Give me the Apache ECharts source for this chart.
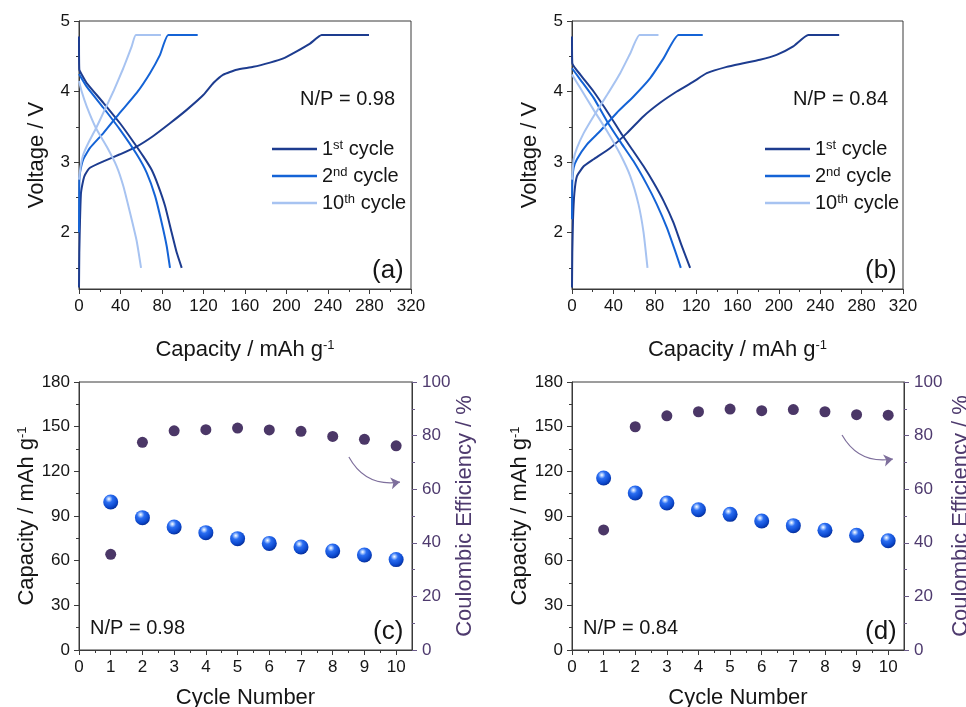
<!DOCTYPE html>
<html><head><meta charset="utf-8">
<script src="https://cdn.jsdelivr.net/npm/echarts@6/dist/echarts.min.js"></script>
<style>html,body{margin:0;padding:0;background:#fff}#c{width:966px;height:707px}</style>
</head><body><div id="c"></div>
<script>
// ---------- data ----------
const a1Charge = [[0,1.22],[0.3,1.72],[1.0,2.19],[1.9,2.56],[4.2,2.75],[5.8,2.82],[10.6,2.92],[23.5,3.01],[39.5,3.11],[55.6,3.22],[71.6,3.37],[87.7,3.55],[103.8,3.74],[119.8,3.95],[129.5,4.12],[139.1,4.24],[152.0,4.31],[168.0,4.35],[184.1,4.41],[197.0,4.47],[209.8,4.57],[222.7,4.68],[233.9,4.80],[279.5,4.80]];
const a1Discharge = [[0,4.78],[0.3,4.31],[2.6,4.24],[7.4,4.12],[23.5,3.84],[39.5,3.55],[50.8,3.32],[62.0,3.08],[70.0,2.89],[76.5,2.66],[82.9,2.38],[89.3,2.0],[94.1,1.72],[99.0,1.50]];
const a2Charge = [[0,2.0],[0.3,2.71],[1.0,2.85],[4.2,3.04],[10.6,3.20],[23.5,3.41],[39.5,3.70],[55.6,3.98],[68.4,4.26],[78.1,4.52],[86.1,4.80],[114.4,4.80]];
const a2Discharge = [[0,4.25],[7.4,4.07],[23.5,3.77],[39.5,3.46],[55.6,3.11],[65.2,2.85],[73.3,2.52],[79.7,2.14],[84.5,1.81],[87.7,1.50]];
const a10Charge = [[0,2.75],[1.6,2.94],[4.2,3.11],[9.0,3.27],[16.4,3.48],[23.5,3.70],[33.1,4.0],[42.7,4.33],[50.8,4.64],[54.9,4.80],[79.0,4.80]];
const a10Discharge = [[0,4.15],[2.6,4.0],[7.4,3.79],[16.4,3.48],[26.7,3.22],[36.3,2.94],[42.7,2.66],[49.2,2.28],[55.6,1.88],[59.8,1.50]];

const b1Charge = [[0,1.22],[0.3,1.72],[1.0,2.19],[2.3,2.56],[4.8,2.80],[11.3,2.94],[20.9,3.04],[37.0,3.20],[53.1,3.41],[69.2,3.65],[85.2,3.84],[101.3,4.0],[117.4,4.14],[130.3,4.26],[149.6,4.35],[165.6,4.40],[181.7,4.45],[197.8,4.52],[213.9,4.64],[228.4,4.80],[258.3,4.80]];
const b1Discharge = [[0,4.78],[0.3,4.40],[8.0,4.24],[20.9,4.0],[37.0,3.65],[48.2,3.39],[59.5,3.15],[69.2,2.94],[78.8,2.71],[88.5,2.45],[98.1,2.14],[106.1,1.81],[114.2,1.50]];
const b2Charge = [[0,2.19],[0.3,2.71],[1.6,2.92],[4.8,3.04],[14.5,3.25],[27.3,3.44],[43.4,3.70],[59.5,3.93],[75.6,4.19],[88.5,4.47],[102.9,4.80],[126.4,4.80]];
const b2Discharge = [[0,4.33],[8.0,4.17],[20.9,3.91],[33.8,3.58],[46.6,3.29],[59.5,3.01],[72.4,2.68],[82.0,2.40],[91.7,2.07],[99.7,1.74],[105.2,1.50]];
const b10Charge = [[0,2.75],[1.6,3.04],[4.8,3.20],[11.3,3.41],[20.9,3.65],[33.8,3.95],[46.6,4.26],[56.3,4.54],[65.3,4.80],[83.6,4.80]];
const b10Discharge = [[0,4.24],[8.0,4.05],[20.9,3.74],[33.8,3.44],[46.6,3.11],[56.3,2.80],[64.3,2.40],[69.2,2.0],[73.0,1.50]];

const cycles = [1,2,3,4,5,6,7,8,9,10];
const capC = [99.4, 88.9, 82.6, 78.8, 74.8, 71.6, 69.2, 66.5, 63.8, 60.7];
const ceC  = [35.7, 77.5, 81.8, 82.2, 82.8, 82.1, 81.6, 79.7, 78.6, 76.2];
const capD = [115.5, 105.4, 98.7, 94.2, 91.1, 86.6, 83.5, 80.4, 77.0, 73.4];
const ceD  = [44.8, 83.3, 87.4, 88.9, 89.9, 89.3, 89.7, 88.9, 87.8, 87.6];

const voltLabels = [2,3,4,5];
const voltMinor = [1.5,2.5,3.5,4.5];
const cycleLabels = [0,1,2,3,4,5,6,7,8,9,10];
const cycleMinor = [0.5,1.5,2.5,3.5,4.5,5.5,6.5,7.5,8.5,9.5];
const legendNames = ['1st cycle','2nd cycle','10th cycle'];
const arrowC = [[8.51,129.6],[10.12,112.8]];
const arrowD = [[8.54,144.4],[10.15,128.3]];

// ---------- style ----------
const FONT = '"Liberation Sans", Arial, sans-serif';
const AX = '#3a3a3a';
const TXT = '#151515';
const PURPLE = '#4e3a6e';
const C1 = '#1d3c8f', C2 = '#1463d6', C10 = '#a7c3f1';
const SUP = {sup:{fontSize:13, verticalAlign:'top', lineHeight:13, fontFamily:FONT, color:TXT}};

const chart = echarts.init(document.getElementById('c'));

const grids = [
  {left:79, top:21, width:332, height:268},
  {left:572, top:21, width:331, height:268},
  {left:79, top:382, width:333, height:268},
  {left:572, top:382, width:332, height:268}
].map(g => Object.assign(g, {show:true, borderColor:AX, borderWidth:1, backgroundColor:'transparent',
  containLabel:false, outerBoundsMode:'none'}));

const xLbl = {fontSize:17, color:TXT, fontFamily:FONT, margin:9};
const yLbl = {fontSize:17, color:TXT, fontFamily:FONT, margin:9};

function capX(gi){
  return {gridIndex:gi, type:'value', min:0, max:320, interval:40, position:'bottom',
    axisLine:{onZero:false, lineStyle:{color:AX}}, axisTick:{length:5, lineStyle:{color:AX}},
    minorTick:{show:true, splitNumber:2, length:3, lineStyle:{color:AX}},
    splitLine:{show:false}, minorSplitLine:{show:false}, axisLabel:xLbl,
    name:'Capacity / mAh g{sup|-1}', nameLocation:'middle', nameGap:50,
    nameTextStyle:{fontSize:22, color:TXT, fontFamily:FONT, rich:SUP}};
}
function cycX(gi){
  return {gridIndex:gi, type:'value', min:0, max:10.5, position:'bottom',
    axisLine:{onZero:false, lineStyle:{color:AX}},
    axisTick:{length:5, customValues:cycleLabels, lineStyle:{color:AX}},
    axisLabel:Object.assign({customValues:cycleLabels}, xLbl),
    splitLine:{show:false},
    name:'Cycle Number', nameLocation:'middle', nameGap:37,
    nameTextStyle:{fontSize:22, color:TXT, fontFamily:FONT}};
}
function minorX(gi){
  return {gridIndex:gi, type:'value', min:0, max:10.5, position:'bottom',
    axisLine:{show:false, onZero:false}, axisTick:{length:3, customValues:cycleMinor, lineStyle:{color:AX}},
    axisLabel:{show:false}, splitLine:{show:false}};
}
function voltY(gi){
  return {gridIndex:gi, type:'value', min:1.2, max:5, position:'left',
    axisLine:{show:true, onZero:false, lineStyle:{color:AX}},
    axisTick:{show:true, length:5, customValues:voltLabels, lineStyle:{color:AX}},
    axisLabel:Object.assign({customValues:voltLabels}, yLbl),
    splitLine:{show:false},
    name:'Voltage / V', nameLocation:'middle', nameGap:31, nameRotate:90,
    nameTextStyle:{fontSize:22, color:TXT, fontFamily:FONT}};
}
function voltMinorY(gi){
  return {gridIndex:gi, type:'value', min:1.2, max:5, position:'left',
    axisLine:{show:false, onZero:false},
    axisTick:{show:true, length:3, customValues:voltMinor, lineStyle:{color:AX}},
    axisLabel:{show:false}, splitLine:{show:false}};
}
function capY(gi){
  return {gridIndex:gi, type:'value', min:0, max:180, interval:30, position:'left',
    axisLine:{show:true, onZero:false, lineStyle:{color:AX}},
    axisTick:{show:true, length:5, lineStyle:{color:AX}},
    minorTick:{show:true, splitNumber:2, length:3, lineStyle:{color:AX}},
    axisLabel:yLbl, splitLine:{show:false}, minorSplitLine:{show:false},
    name:'Capacity / mAh g{sup|-1}', nameLocation:'middle', nameGap:39, nameRotate:90,
    nameTextStyle:{fontSize:22, color:TXT, fontFamily:FONT, rich:SUP}};
}
function ceY(gi, gap){
  return {gridIndex:gi, type:'value', min:0, max:100, interval:20, position:'right',
    axisLine:{show:true, onZero:false, lineStyle:{color:AX}},
    axisTick:{show:true, length:5, lineStyle:{color:'#6a5a88'}},
    minorTick:{show:true, splitNumber:2, length:3, lineStyle:{color:'#6a5a88'}},
    axisLabel:{fontSize:17, color:PURPLE, fontFamily:FONT, margin:10},
    splitLine:{show:false}, minorSplitLine:{show:false},
    name:'Coulombic Efficiency / %', nameLocation:'middle', nameGap:gap, nameRotate:90,
    nameTextStyle:{fontSize:22, color:PURPLE, fontFamily:FONT}};
}

const xAxis = [capX(0), capX(1), cycX(2), cycX(3), minorX(2), minorX(3)];
const yAxis = [voltY(0), voltY(1), voltMinorY(0), voltMinorY(1), capY(2), ceY(2,41), capY(3), ceY(3,46)];

function ln(name, data, color, xi, yi){
  return {type:'line', name, data, xAxisIndex:xi, yAxisIndex:yi, showSymbol:false, symbol:'none',
    smooth:0.15, lineStyle:{color, width:2}, itemStyle:{color}, silent:true, animation:false};
}
const sphere = new echarts.graphic.RadialGradient(0.38, 0.3, 0.7, [
  {offset:0, color:'#ffffff'}, {offset:0.12, color:'#b4d0ff'}, {offset:0.35, color:'#2b6ef2'},
  {offset:0.8, color:'#0b47cc'}, {offset:1, color:'#07309c'}]);
function capScatter(vals, xi, yi){
  return {type:'scatter', data:cycles.map((c,i)=>[c, vals[i]]), xAxisIndex:xi, yAxisIndex:yi,
    symbolSize:15, itemStyle:{color:sphere, opacity:1}, silent:true, animation:false};
}
function ceScatter(vals, xi, yi){
  return {type:'scatter', data:cycles.map((c,i)=>[c, vals[i]]), xAxisIndex:xi, yAxisIndex:yi,
    symbolSize:11, itemStyle:{color:'#4b3767', opacity:1}, silent:true, animation:false};
}
function arrow(coords, xi, yi){
  return {type:'lines', coordinateSystem:'cartesian2d', xAxisIndex:xi, yAxisIndex:yi,
    data:[{coords}], symbol:['none','arrow'], symbolSize:9,
    lineStyle:{color:'#7e6f9c', width:1.2, curveness:-0.35, opacity:1}, silent:true, animation:false};
}

const series = [
  ln(legendNames[0], a1Charge, C1, 0, 0), ln(legendNames[0], a1Discharge, C1, 0, 0),
  ln(legendNames[1], a2Charge, C2, 0, 0), ln(legendNames[1], a2Discharge, C2, 0, 0),
  ln(legendNames[2], a10Charge, C10, 0, 0), ln(legendNames[2], a10Discharge, C10, 0, 0),
  ln(legendNames[0], b1Charge, C1, 1, 1), ln(legendNames[0], b1Discharge, C1, 1, 1),
  ln(legendNames[1], b2Charge, C2, 1, 1), ln(legendNames[1], b2Discharge, C2, 1, 1),
  ln(legendNames[2], b10Charge, C10, 1, 1), ln(legendNames[2], b10Discharge, C10, 1, 1),
  capScatter(capC, 2, 4), ceScatter(ceC, 2, 5),
  capScatter(capD, 3, 6), ceScatter(ceD, 3, 7),
  arrow(arrowC, 2, 4), arrow(arrowD, 3, 6)
];

function legendFmt(name){
  const m = name.match(/^(\d+)(st|nd|rd|th) (.*)$/);
  return m ? m[1] + '{sup|' + m[2] + '} ' + m[3] : name;
}
function mkLegend(left){
  return {left, top:139, padding:0, orient:'vertical', itemWidth:45, itemHeight:2.5, itemGap:7, icon:'rect',
    selectedMode:false, data:legendNames, formatter:legendFmt,
    textStyle:{fontSize:20, color:TXT, fontFamily:FONT, lineHeight:20, rich:SUP}};
}

function txt(left, top, text, size){
  return {type:'text', left, top, silent:true, style:{text, fontSize:size, fontFamily:FONT, fill:TXT}};
}

chart.setOption({
  backgroundColor:'#ffffff',
  animation:false,
  grid:grids, xAxis, yAxis, series,
  legend:[mkLegend(272), mkLegend(765)],
  graphic:[
    txt(300, 89, 'N/P = 0.98', 20), txt(372, 258, '(a)', 26),
    txt(793, 89, 'N/P = 0.84', 20), txt(865, 258, '(b)', 26),
    txt(90, 618, 'N/P = 0.98', 20), txt(373, 619, '(c)', 26),
    txt(583, 618, 'N/P = 0.84', 20), txt(865, 619, '(d)', 26)
  ]
});
</script></body></html>
